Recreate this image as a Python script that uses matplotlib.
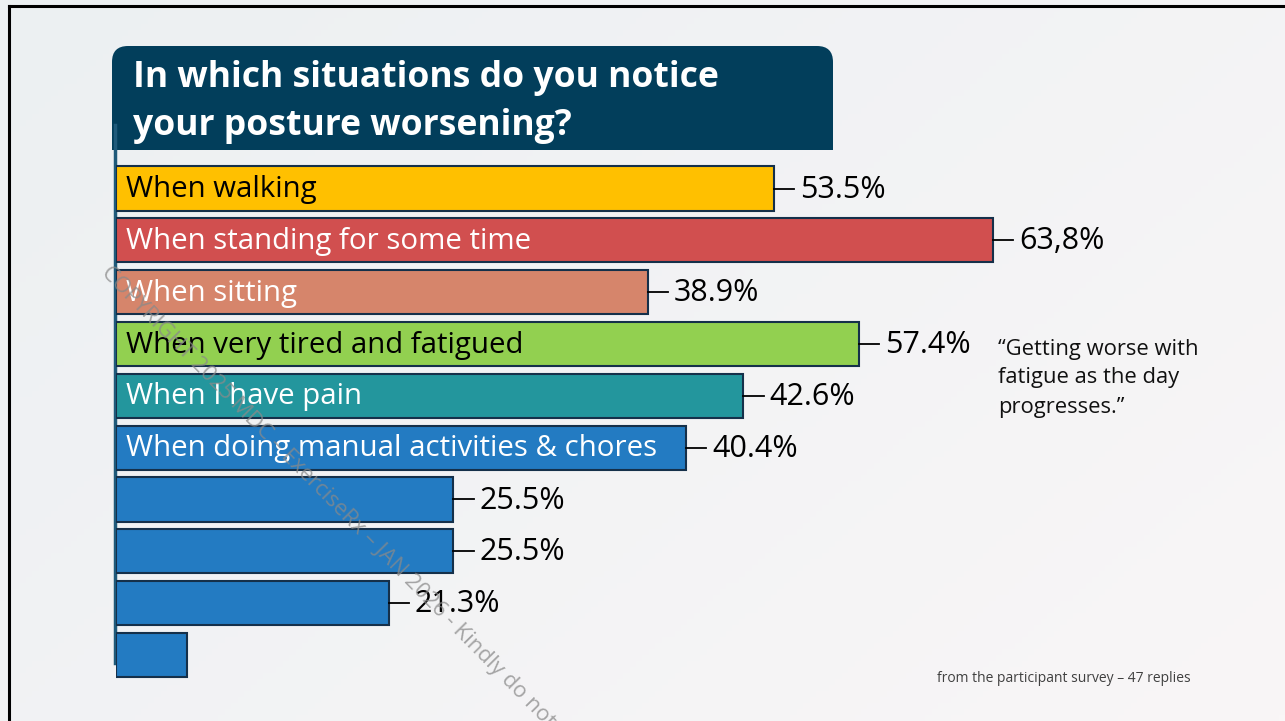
import numpy as np
import matplotlib
matplotlib.use('Agg')
import matplotlib.pyplot as plt
from matplotlib.patches import FancyBboxPatch, Rectangle
from matplotlib.lines import Line2D

# data  ========================================================================
categories = ['When walking', 'When standing for some time', 'When sitting',
              'When very tired and fatigued', 'When I have pain',
              'When doing manual activities & chores', '', '', '', '']
pct_labels = ['53.5%', '63,8%', '38.9%', '57.4%', '42.6%', '40.4%',
              '25.5%', '25.5%', '21.3%', '']
# bar lengths as drawn on the slide (not quite proportional to the labels)
bar_len = [48.0, 64.0, 38.8, 54.2, 45.8, 41.6, 24.6, 24.6, 19.9, 5.2]
bar_colors = ['#FFC000', '#D14F4F', '#D6856B', '#92D050', '#23969D',
              '#237BC2', '#237BC2', '#237BC2', '#237BC2', '#237BC2']
text_colors = ['black', 'white', 'white', 'black', 'white', 'white',
               'white', 'white', 'white', 'white']
title = 'In which situations do you notice\nyour posture worsening?'
quote = '\u201cGetting worse with\nfatigue as the day\nprogresses.\u201d'
footnote = 'from the participant survey \u2013 47 replies'
watermark = 'COPYRIGHT 2025 MDC \u2013 ExerciseRx \u2013 JAN 2026 - Kindly do not'

W, H = 1285, 721
def fx(x): return x / W
def fy(y): return 1 - y / H

fig = plt.figure(figsize=(W / 100, H / 100), dpi=100)

# slide background  ============================================================
bg = fig.add_axes([0, 0, 1, 1], zorder=0)
gx, gy = np.meshgrid(np.linspace(0, 1, 200), np.linspace(0, 1, 120))
t = (gx * 0.6 + gy * 0.4)
c0 = np.array([236, 240, 242]) / 255
c1 = np.array([249, 246, 247]) / 255
img = c0[None, None, :] * (1 - t[..., None]) + c1[None, None, :] * t[..., None]
bg.imshow(img, extent=[0, W, H, 0], aspect='auto')
bg.set_xlim(0, W)
bg.set_ylim(H, 0)
bg.axis('off')

# frame
bg.add_line(Line2D([9, W], [5.5, 5.5], color='black', lw=2.2))
bg.add_line(Line2D([9, 9], [5.5, H], color='black', lw=2.2))

# title box with rounded top corners
box_col = '#023E5B'
bg.add_patch(FancyBboxPatch((112 + 16, 46 + 16), 721 - 32, 60,
                            boxstyle='round,pad=16', fc=box_col, ec='none'))
bg.add_patch(Rectangle((112, 90), 721, 60, fc=box_col, ec='none'))
bg.text(133, 102, title, color='white', fontsize=25.6, fontweight='bold',
        family='Open Sans', va='center', ha='left', linespacing=1.42)

# vertical axis line
bg.add_line(Line2D([115, 115], [125, 663], color='#1F5A7A', lw=2.5))

# bars  ========================================================================
n = len(bar_len)
ax = fig.add_axes([fx(116), fy(680.9), 1096 / W, 518.3 / H], zorder=2)
ax.patch.set_alpha(0)
y = np.arange(n)
ax.barh(y, bar_len, height=0.85, color=bar_colors, edgecolor='#15304A',
        linewidth=1.5)
ax.set_xlim(0, 80)
ax.set_ylim(n - 0.5, -0.5)
ax.axis('off')

for i in range(n):
    if categories[i]:
        ax.text(0.75, y[i] + 0.02, categories[i], color=text_colors[i],
                fontsize=21.2, family='Open Sans', va='center', ha='left')
    if pct_labels[i]:
        ax.plot([bar_len[i], bar_len[i] + 1.5], [y[i], y[i]], color='black', lw=1.3)
        ax.text(bar_len[i] + 1.9, y[i] + 0.02, pct_labels[i], color='black',
                fontsize=22, family='Open Sans', va='center', ha='left')

# quote, footnote, watermark  ==================================================
fig.text(fx(998), fy(378), quote, fontsize=15.8, family='Open Sans',
         color='#111111', va='center', ha='left', linespacing=1.5, zorder=3)
fig.text(fx(937), fy(678), footnote, fontsize=10, family='Open Sans',
         color='#404040', va='center', ha='left', zorder=3)
fig.text(fx(112), fy(262), watermark, fontsize=16, family='Open Sans',
         color='#8a8a8a', alpha=0.75, rotation=-45.5, rotation_mode='anchor',
         va='top', ha='left', zorder=5)

fig.savefig('out.png', dpi=100)
